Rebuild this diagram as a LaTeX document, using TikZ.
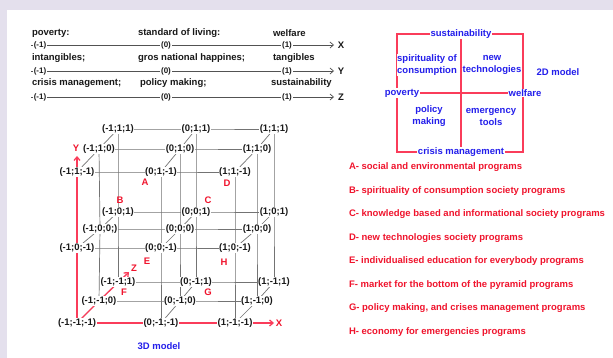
\documentclass[tikz,border=0pt]{standalone}
\usepackage{fontspec}
\setmainfont{Liberation Sans}
\usetikzlibrary{arrows.meta}
\pgfdeclarelayer{back}
\pgfdeclarelayer{bg}
\pgfsetlayers{back,bg,main}
\definecolor{lav}{RGB}{228,224,237}
\definecolor{gridgray}{RGB}{115,115,115}
\definecolor{axred}{RGB}{250,60,90}
\definecolor{txtred}{RGB}{240,20,45}
\definecolor{txtblue}{RGB}{35,30,235}
\definecolor{txtblk}{RGB}{25,25,25}
\tikzset{
  base/.style={font=\bfseries\fontsize{9.5}{12}\selectfont, inner sep=0.8pt},
  lbl/.style={base, text=txtblk},
  val/.style={font=\bfseries\fontsize{8}{9}\selectfont, text=txtblk, fill=white, inner sep=0.8pt},
  gridpt/.style={base, text=txtblk, fill=white, inner sep=0.6pt},
  letter/.style={base, text=txtred},
  bluetxt/.style={base, text=txtblue, align=center},
  bluebox/.style={bluetxt, fill=white, inner sep=0.5pt},
  legend/.style={base, text=txtred, anchor=west},
  gline/.style={draw=gridgray, line width=0.7pt},
  rline/.style={draw=axred, line width=1.3pt},
  frameline/.style={draw=axred, line width=1.4pt},
  axline/.style={draw=txtblk!75, line width=0.7pt},
  tip/.style={-{Straight Barb[length=3.5pt,width=6pt]}},
}
\begin{document}
\begin{tikzpicture}[x=1pt,y=-1pt]
\useasboundingbox (0,0) rectangle (613,358);
\begin{pgfonlayer}{back}
  \fill[lav] (0,0) rectangle (613,358);
  \fill[white] (7,10) rectangle (613,358);
\end{pgfonlayer}

% ---- top block of scales
\node[lbl,anchor=west] (r1a) at (31,33) {poverty:};
\node[lbl,anchor=west] (r1b) at (137,33) {standard of living:};
\node[lbl,anchor=west] (r1c) at (272,33) {welfare};
\node[lbl,anchor=west] (r2a) at (31,58) {intangibles;};
\node[lbl,anchor=west] (r2b) at (137,58) {gros national happines;};
\node[lbl,anchor=west] (r2c) at (272,58) {tangibles};
\node[lbl,anchor=west] (r3a) at (31,83) {crisis management;};
\node[lbl,anchor=west] (r3b) at (139,83) {policy making;};
\node[lbl,anchor=west] (r3c) at (270,83) {sustainability};

\coordinate (s1) at (31,45);  \coordinate (e1) at (334,45);
\coordinate (s2) at (31,71);  \coordinate (e2) at (334,71);
\coordinate (s3) at (31,97);  \coordinate (e3) at (334,97);
\node[val] (v1a) at (40,45) {(-1)};
\node[val] (v1b) at (166,45) {(0)};
\node[val] (v1c) at (287,45) {(1)};
\node[val] (v2a) at (40,71) {(-1)};
\node[val] (v2b) at (166,71) {(0)};
\node[val] (v2c) at (287,71) {(1)};
\node[val] (v3a) at (40,97) {(-1)};
\node[val] (v3b) at (166,97) {(0)};
\node[val] (v3c) at (287,97) {(1)};
\node[lbl] (lx) at (341,45) {X};
\node[lbl] (ly) at (341,71) {Y};
\node[lbl] (lz) at (341,97) {Z};
\begin{pgfonlayer}{bg}
  \draw[axline,tip] (s1) -- (e1);
  \draw[axline,tip] (s2) -- (e2);
  \draw[axline,tip] (s3) -- (e3);
\end{pgfonlayer}

% ---- 2D model
\node[bluebox] (sus) at (461,34) {sustainability};
\node[bluebox] (cri) at (461,152) {crisis management};
\node[bluebox] (pov) at (402,93) {poverty};
\node[bluebox] (wel) at (525,93) {welfare};
\node[bluebox] (spi) at (427,65) {spirituality of\\consumption};
\node[bluebox] (newt) at (492,65) {new\\technologies};
\node[bluebox] (pol) at (429,116) {policy\\making};
\node[bluebox] (eme) at (491,117) {emergency\\tools};
\node[bluetxt] (m2d) at (558,72) {2D model};
\coordinate (fTL) at (397,34);
\coordinate (fBR) at (523,152);
\begin{pgfonlayer}{bg}
  \draw[frameline] (fTL) rectangle (fBR);
  \draw[frameline] (sus.center) -- (cri.center);
  \draw[frameline] (pov.center) -- (wel.center);
\end{pgfonlayer}

% ---- 3D model grid
% z = -1
\node[gridpt] (aca) at (77,172) {(-1;1;-1)};
\node[gridpt] (bca) at (161,172) {(0;1;-1)};
\node[gridpt] (cca) at (235,172) {(1;1;-1)};
\node[gridpt] (aba) at (77,248) {(-1;0;-1)};
\node[gridpt] (bba) at (161,248) {(0;0;-1)};
\node[gridpt] (cba) at (235,248) {(1;0;-1)};
\node[gridpt] (aaa) at (77,323) {(-1;-1;-1)};
\node[gridpt] (baa) at (161,323) {(0;-1;-1)};
\node[gridpt] (caa) at (235,323) {(1;-1;-1)};
% z = 0
\node[gridpt] (acb) at (99,149) {(-1;1;0)};
\node[gridpt] (bcb) at (180,149) {(0;1;0)};
\node[gridpt] (ccb) at (257,149) {(1;1;0)};
\node[gridpt] (abb) at (100,229) {(-1;0;0;)};
\node[gridpt] (bbb) at (180,229) {(0;0;0)};
\node[gridpt] (cbb) at (257,229) {(1;0;0)};
\node[gridpt] (aab) at (99,301) {(-1;-1;0)};
\node[gridpt] (bab) at (180,301) {(0;-1;0)};
\node[gridpt] (cab) at (257,301) {(1;-1;0)};
% z = 1
\node[gridpt] (acc) at (118,129) {(-1;1;1)};
\node[gridpt] (bcc) at (196,129) {(0;1;1)};
\node[gridpt] (ccc) at (274,129) {(1;1;1)};
\node[gridpt] (abc) at (118,212) {(-1;0;1)};
\node[gridpt] (bbc) at (196,212) {(0;0;1)};
\node[gridpt] (cbc) at (274,212) {(1;0;1)};
\node[gridpt] (aac) at (118,282) {(-1;-1;1)};
\node[gridpt] (bac) at (196,282) {(0;-1;1)};
\node[gridpt] (cac) at (274,282) {(1;-1;1)};

\node[letter] (lA) at (145,182) {A};
\node[letter] (lB) at (120,200) {B};
\node[letter] (lC) at (208,200) {C};
\node[letter] (lD) at (227,183) {D};
\node[letter] (lE) at (147,261) {E};
\node[letter] (lF) at (124,292) {F};
\node[letter] (lG) at (208,292) {G};
\node[letter] (lH) at (224,262) {H};

\node[letter] (axY) at (76,148) {Y};
\node[letter] (axZ) at (134,268) {Z};
\node[letter] (axX) at (279,323) {X};
\coordinate (ytip) at (77,156);
\coordinate (ztip) at (129,272);
\coordinate (xtip) at (274,323);
\node[bluetxt] (m3d) at (159,346) {3D model};

\begin{pgfonlayer}{bg}
  \foreach \y in {a,b,c} {
    \foreach \z in {a,b,c} {
      \draw[gline] (a\y\z.center) -- (b\y\z.center) -- (c\y\z.center);
    }
  }
  \foreach \x in {a,b,c} {
    \foreach \z in {a,b,c} {
      \draw[gline] (\x c\z.center) -- (\x b\z.center) -- (\x a\z.center);
    }
  }
  \foreach \x in {a,b,c} {
    \foreach \y in {a,b,c} {
      \draw[gline] (\x\y a.center) -- (\x\y b.center) -- (\x\y c.center);
    }
  }
  \draw[rline,tip] (aaa.center) -- (baa.center) -- (caa.center) -- (xtip);
  \draw[rline,tip] (aaa.center) -- (aba.center) -- (aca.center) -- (ytip);
  \draw[rline,tip] (aaa.center) -- (aab.center) -- (ztip);
\end{pgfonlayer}

% ---- legend
\node[legend] (gA) at (348,167) {A- social and environmental programs};
\node[legend] (gB) at (348,191) {B- spirituality of consumption society programs};
\node[legend] (gC) at (348,214) {C- knowledge based and informational society programs};
\node[legend] (gD) at (348,238) {D- new technologies society programs};
\node[legend] (gE) at (348,261) {E- individualised education for everybody programs};
\node[legend] (gF) at (348,285) {F- market for the bottom of the pyramid programs};
\node[legend] (gG) at (348,308) {G- policy making, and crises management programs};
\node[legend] (gH) at (348,332) {H- economy for emergencies programs};
\end{tikzpicture}
\end{document}
